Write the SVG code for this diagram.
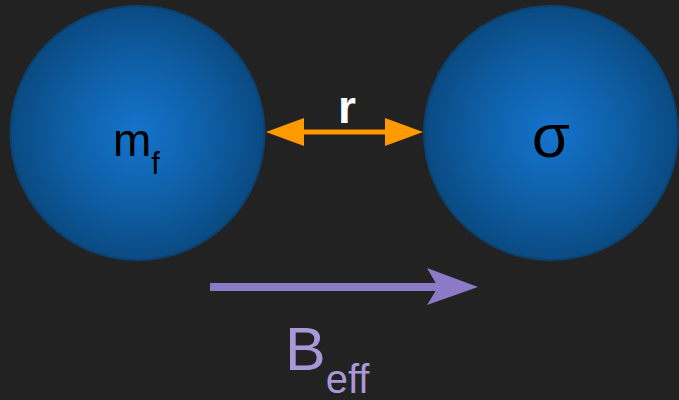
<svg xmlns="http://www.w3.org/2000/svg" width="679" height="400" viewBox="0 0 679 400">
<defs>
<radialGradient id="ball" cx="50%" cy="50%" r="50%">
<stop offset="0" stop-color="#1474cc"/>
<stop offset="0.6" stop-color="#0e5da3"/>
<stop offset="1" stop-color="#0a4a82"/>
</radialGradient>
<style>
.ball{fill:url(#ball);stroke:#0b416f;stroke-width:2}
.lbl{font-family:"Liberation Sans",Arial,sans-serif;fill:#000}
.orange{fill:#ff9a00}
</style>
</defs>
<rect width="679" height="400" fill="#222222"/>
<g id="node-mf">
<circle class="ball" cx="137.5" cy="133" r="127"/>
<text class="lbl" x="113" y="156" font-size="46">m<tspan font-size="31" dy="18">f</tspan></text>
</g>
<g id="node-sigma">
<circle class="ball" cx="551" cy="133" r="127"/>
<text class="lbl" x="551" y="157" font-size="62" text-anchor="middle">σ</text>
</g>
<g id="connectors">
<g id="edge-r">
<line x1="300" y1="132" x2="390" y2="132" stroke="#ff9a00" stroke-width="5"/>
<polygon class="orange" points="266,132 304,118 304,146"/>
<polygon class="orange" points="423,132 385,118 385,146"/>
<text x="347" y="123" font-family="Liberation Sans,Arial,sans-serif" font-size="46" font-weight="bold" fill="#ffffff" text-anchor="middle">r</text>
</g>
<g id="edge-beff">
<line x1="210" y1="287" x2="440" y2="287" stroke="#8b7bc6" stroke-width="8"/>
<polygon points="478,287 427,268 438,287 427,305" fill="#8b7bc6"/>
<text x="285" y="370" font-family="Liberation Sans,Arial,sans-serif" font-size="61" fill="#a898d8">B<tspan font-size="40" dy="23">eff</tspan></text>
</g>
</g>
</svg>
